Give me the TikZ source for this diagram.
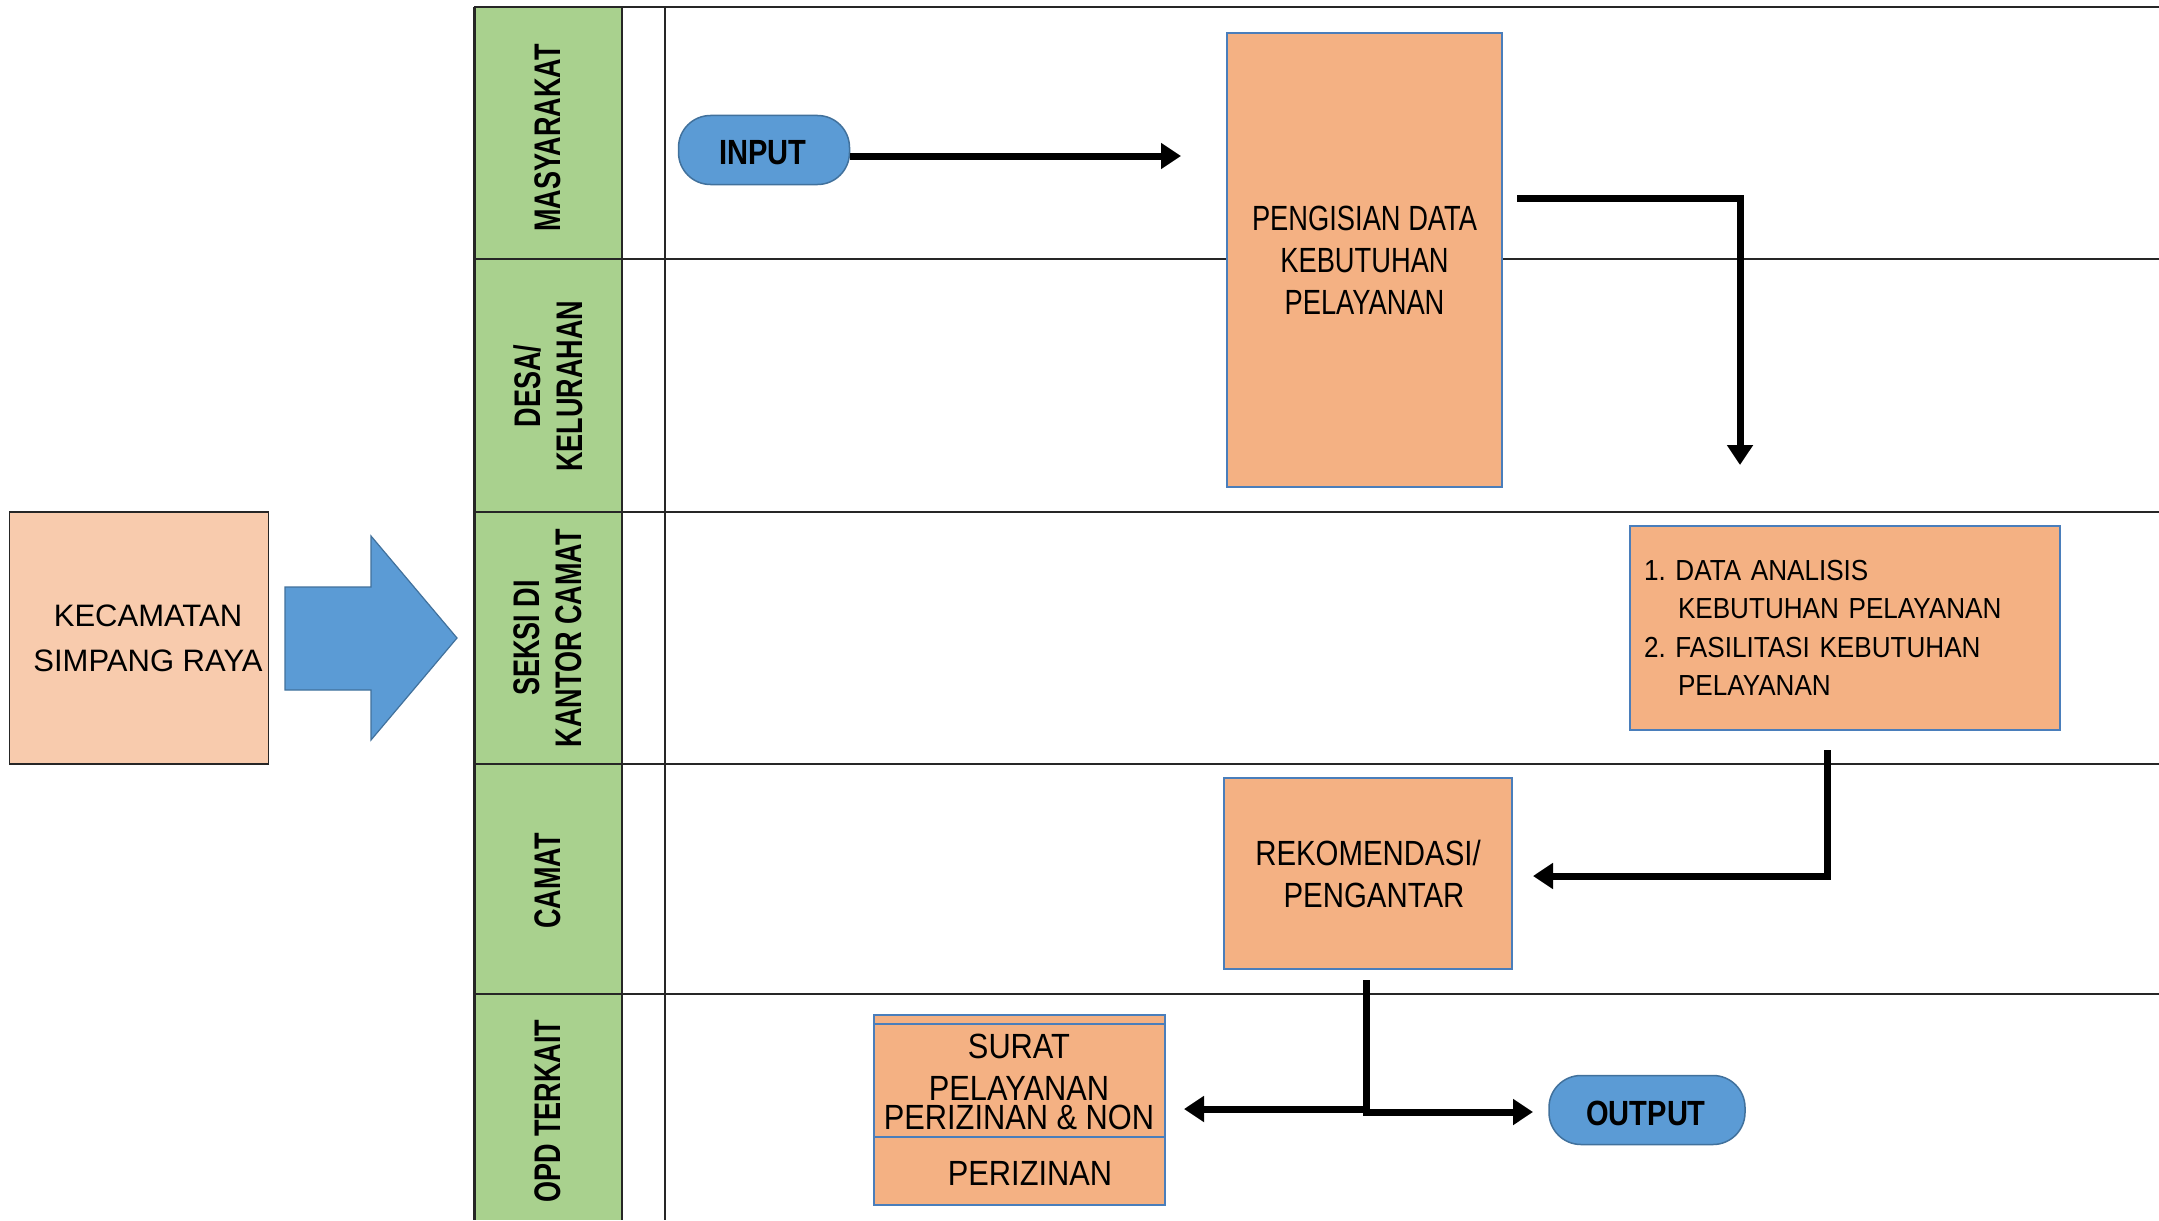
\documentclass[tikz,border=0pt]{standalone}
\usepackage{fontspec}
\setmainfont{Liberation Sans}
\newfontfamily\pengf[FakeStretch=0.78]{Liberation Sans}
\newfontfamily\rekf[FakeStretch=0.84]{Liberation Sans}
\newfontfamily\suratf[FakeStretch=0.88]{Liberation Sans}
\newfontfamily\termf[FakeStretch=0.83]{Liberation Sans}
\newfontfamily\datf[FakeStretch=0.9]{Liberation Sans}
\newfontfamily\lanef[FakeStretch=0.73]{Liberation Sans}
\usetikzlibrary{arrows.meta,calc}
\definecolor{greenf}{HTML}{A9D18E}
\definecolor{orangef}{HTML}{F4B183}
\definecolor{peachf}{HTML}{F8CBAD}
\definecolor{bluef}{HTML}{5B9BD5}
\definecolor{blued}{HTML}{41719C}
\definecolor{boxline}{HTML}{4A7EBB}
\tikzset{
  laneline/.style={draw=black!85, line width=1.6pt},
  lanelabel/.style={rotate=90, font=\lanef\bfseries\fontsize{37}{42}\selectfont, align=center, inner sep=0pt},
  procbox/.style={draw=boxline, fill=orangef, line width=1.5pt, inner sep=0pt, align=center},
  term/.style={draw=blued, fill=bluef, line width=1.5pt, rounded corners=32pt, inner sep=0pt, font=\termf\bfseries\fontsize{35}{40}\selectfont},
  flow/.style={line width=7pt, -{Triangle[length=20pt,width=25pt]}},
  thickline/.style={line width=7pt},
  txt/.style={inner sep=0pt, align=center}
}
\begin{document}
\frenchspacing
\begin{tikzpicture}[x=1pt,y=-1pt]
\useasboundingbox (0,0) rectangle (2159,1220);
\fill[white] (0,0) rectangle (2159,1220);

% swimlane table
\fill[greenf] (474,7) rectangle (622,1220);
\draw[laneline, line width=2pt] (474,7) -- (2159,7);
\foreach \yy in {259,512,764,994} {\draw[laneline] (474,\yy) -- (2159,\yy);}
\draw[line width=3pt, black!85] (474,7) -- (474,1220);
\draw[line width=2.5pt, black!85] (622,7) -- (622,1220);
\draw[line width=1.3pt, black!85] (665,7) -- (665,1220);

\node[lanelabel] (l1) at (548,138) {MASYARAKAT};
\node[lanelabel] (l2) at (548,386) {DESA/\\KELURAHAN};
\node[lanelabel] (l3) at (548,638) {SEKSI DI\\KANTOR CAMAT};
\node[lanelabel] (l4) at (548,881) {CAMAT};
\node[lanelabel] (l5) at (548,1111) {OPD TERKAIT};

% left side
\node[draw=black!85, fill=peachf, line width=1.5pt, minimum width=259pt, minimum height=252pt, inner sep=0pt] (kec) at (139,638) {};
\node[txt, font=\fontsize{31}{45}\selectfont] (kect) at ($(kec.center)+(9,0)$) {KECAMATAN\\SIMPANG RAYA};
\draw[fill=bluef, draw=blued, line width=1.2pt] (285,587) -- (371,587) -- (371,536) -- (457,638) -- (371,740) -- (371,690) -- (285,690) -- cycle;

% process nodes
\node[term, minimum width=171pt, minimum height=69pt] (input) at (764,150) {};
\node[txt, font=\termf\bfseries\fontsize{35}{40}\selectfont] (inputt) at (763,153) {INPUT};
\node[procbox, minimum width=275pt, minimum height=454pt, font=\pengf\fontsize{35}{42}\selectfont] (peng) at (1364.5,260) {PENGISIAN DATA\\KEBUTUHAN\\PELAYANAN};
\node[procbox, minimum width=430pt, minimum height=204pt, text width=402pt, inner xsep=14pt, align=left, font=\datf\fontsize{29}{38.5}\selectfont] (data) at (1845,628)
  {1. DATA ANALISIS\\\hspace*{34pt}KEBUTUHAN PELAYANAN\\2. FASILITASI KEBUTUHAN\\\hspace*{34pt}PELAYANAN};
\node[procbox, minimum width=288pt, minimum height=191pt, font=\rekf\fontsize{35}{42}\selectfont] (rek) at (1368,873.5) {REKOMENDASI/\\\hspace*{12pt}PENGANTAR};
\node[procbox, minimum width=291pt, minimum height=190pt] (surat) at (1019.5,1110) {};
\draw[draw=boxline, line width=1.5pt] (surat.west |- 0,1024) -- (surat.east |- 0,1024);
\draw[draw=boxline, line width=1.5pt] (surat.west |- 0,1137) -- (surat.east |- 0,1137);
\node[txt, font=\suratf\fontsize{35}{40}\selectfont] (s1) at (1019,1046) {SURAT};
\node[txt, font=\suratf\fontsize{35}{40}\selectfont] (s2) at (1019,1088) {PELAYANAN};
\node[txt, font=\suratf\fontsize{35}{40}\selectfont] (s3) at (1019,1117) {PERIZINAN \& NON};
\node[txt, font=\suratf\fontsize{35}{40}\selectfont] (s4) at (1030,1173) {PERIZINAN};
\node[term, minimum width=196pt, minimum height=69pt] (output) at (1647,1110) {};
\node[txt, font=\termf\bfseries\fontsize{35}{40}\selectfont] (outputt) at (1646,1113) {OUTPUT};

% connectors
\coordinate (a1) at (1181,156);
\draw[flow] (input.east |- a1) -- (a1);

\coordinate (p1) at (1517,198);
\coordinate (p2) at (1740,465);
\draw[flow] (p1) -| (p2);

\coordinate (d1) at (1827,750);
\coordinate (d2) at (1533,876);
\draw[flow] (d1) |- (d2);

\coordinate (r0) at (1366,980);
\coordinate (j1) at (1366,1109);
\coordinate (j2) at (1366,1112);
\coordinate (sl) at (1184,1109);
\coordinate (ol) at (1533,1112);
\draw[thickline] (r0) -- ($(j2)+(0,3.5)$);
\draw[flow] ($(j1)+(3.5,0)$) -- (sl);
\draw[flow] ($(j2)+(-3.5,0)$) -- (ol);
\end{tikzpicture}
\end{document}
